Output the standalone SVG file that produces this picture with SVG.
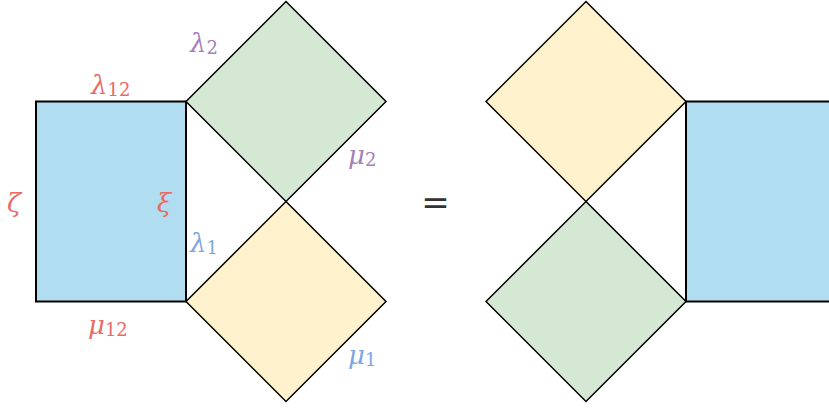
<svg xmlns="http://www.w3.org/2000/svg" width="829" height="410" viewBox="0 0 829 410">
<style>
.blue{fill:#b1ddf0;stroke:#000;stroke-width:2}
.green{fill:#d5e8d4;stroke:#000;stroke-width:1.5;stroke-linejoin:miter}
.yellow{fill:#fff2cc;stroke:#000;stroke-width:1.5;stroke-linejoin:miter}
.m{font-family:"DejaVu Serif","Liberation Serif",serif;font-style:italic;font-size:26px}
.s{font-family:"DejaVu Serif","Liberation Serif",serif;font-style:normal;font-size:18px}
.r{fill:#ea6b66}.p{fill:#a680b8}.b{fill:#7ea6e0}
</style>
<g id="left-rect"><rect class="blue" x="36" y="101.5" width="150" height="200"/></g>
<g id="left-green"><polygon class="green" points="286,1.5 386,101.5 286,201.5 186,101.5"/></g>
<g id="left-yellow"><polygon class="yellow" points="286,201.5 386,301.5 286,401.5 186,301.5"/></g>
<g id="right-yellow"><polygon class="yellow" points="586,1.5 686,101.5 586,201.5 486,101.5"/></g>
<g id="right-green"><polygon class="green" points="586,201.5 686,301.5 586,401.5 486,301.5"/></g>
<g id="right-rect"><rect class="blue" x="686" y="101.5" width="160" height="200"/></g>
<g id="labels">
<text class="m p" x="190" y="52">λ<tspan class="s" dy="2">2</tspan></text>
<text class="m r" x="91" y="94">λ<tspan class="s" dy="2">12</tspan></text>
<text class="m p" x="348" y="164">μ<tspan class="s" dy="2">2</tspan></text>
<text class="m r" x="157" y="212">ξ</text>
<text class="m r" x="7" y="212">ζ</text>
<text class="m b" x="190" y="252">λ<tspan class="s" dy="2">1</tspan></text>
<text class="m r" x="88" y="334">μ<tspan class="s" dy="2">12</tspan></text>
<text class="m b" x="348" y="364">μ<tspan class="s" dy="2">1</tspan></text>
<text x="435.5" y="214" text-anchor="middle" font-family="DejaVu Sans, sans-serif" font-size="34" fill="#333">=</text>
</g>
</svg>
